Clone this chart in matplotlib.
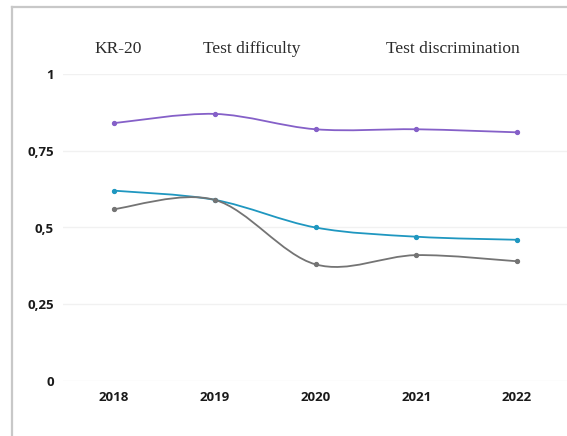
import numpy as np
import matplotlib.pyplot as plt
from matplotlib.path import Path
from matplotlib.patches import PathPatch
from matplotlib.lines import Line2D

# data
years = ["2018", "2019", "2020", "2021", "2022"]
kr20 = [0.84, 0.87, 0.82, 0.82, 0.81]
difficulty = [0.62, 0.59, 0.50, 0.47, 0.46]
discrimination = [0.56, 0.59, 0.38, 0.41, 0.39]

series_titles = ["KR-20", "Test difficulty", "Test discrimination"]
y_ticks = [0, 0.25, 0.5, 0.75, 1]
y_tick_labels = ["0", "0,25", "0,5", "0,75", "1"]

colors = ["#8560c8", "#1f97c0", "#747474"]


def smooth_path(x, y):
    # catmull-rom style bezier through the points
    pts = np.column_stack([x, y]).astype(float)
    n = len(pts)
    verts = [pts[0]]
    codes = [Path.MOVETO]
    for i in range(n - 1):
        p0 = pts[max(i - 1, 0)]
        p1 = pts[i]
        p2 = pts[i + 1]
        p3 = pts[min(i + 2, n - 1)]
        c1 = p1 + (p2 - p0) / 6.0
        c2 = p2 - (p3 - p1) / 6.0
        verts += [c1, c2, p2]
        codes += [Path.CURVE4] * 3
    return Path(verts, codes)


fig = plt.figure(figsize=(5.67, 4.36), dpi=100)
fig.patch.set_facecolor("white")
ax = fig.add_axes([63 / 567, 55 / 436, 504 / 567, 307 / 436])

x = np.arange(len(years))
for vals, col in zip([kr20, difficulty, discrimination], colors):
    patch = PathPatch(smooth_path(x, vals), facecolor="none", edgecolor=col,
                      lw=1.3, transform=ax.transData, clip_on=False, zorder=3)
    ax.add_patch(patch)
    ax.plot(x, vals, "o", color=col, ms=2.8, zorder=4, clip_on=False)

ax.set_xlim(-0.506, 4.496)
ax.set_ylim(0, 1)
ax.set_xticks(x)
ax.set_xticklabels(years)
ax.set_yticks(y_ticks)
ax.set_yticklabels(y_tick_labels)
ax.grid(axis="y", color="#f1f1f1", lw=1)
ax.set_axisbelow(True)
for s in ax.spines.values():
    s.set_visible(False)
ax.tick_params(length=0)
ax.tick_params(axis="y", pad=6.5)
ax.tick_params(axis="x", pad=7.5)
for lab in ax.get_xticklabels() + ax.get_yticklabels():
    lab.set_fontfamily("Open Sans")
    lab.set_fontweight("bold")
    lab.set_fontsize(9.5)
    lab.set_color("#1a1a1a")

# titles above the plot
title_x = [118, 252, 453]
for t, px in zip(series_titles, title_x):
    fig.text(px / 567, 1 - 49 / 436, t, ha="center", va="center",
             fontfamily="Liberation Serif", fontsize=12.5, color="#2a2a2a")

# light grey frame of the screenshot
fig.add_artist(Line2D([12 / 567, 1], [1 - 7 / 436, 1 - 7 / 436],
                      transform=fig.transFigure, color="#c8c8c8", lw=1.6))
fig.add_artist(Line2D([12 / 567, 12 / 567], [0, 1 - 7 / 436],
                      transform=fig.transFigure, color="#c8c8c8", lw=1.6))

fig.savefig("out.png", dpi=100)
